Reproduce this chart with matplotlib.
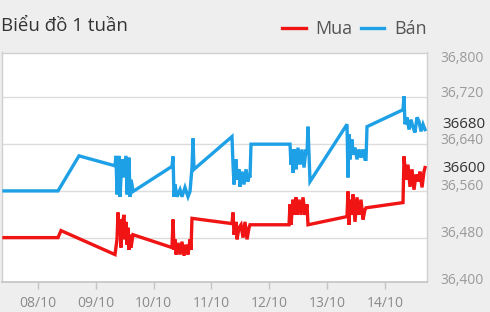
import matplotlib
matplotlib.use('Agg')
import matplotlib.pyplot as plt
import matplotlib.transforms as mtransforms
from matplotlib.lines import Line2D

# ---------------- data ----------------
title = "Biểu đồ 1 tuần"
series_names = ["Mua", "Bán"]
x_tick_pos = [0, 1, 2, 3, 4, 5, 6]          # days since 08/10 00:00
x_tick_labels = ["08/10", "09/10", "10/10", "11/10", "12/10", "13/10", "14/10"]
y_ticks = [36400, 36480, 36560, 36640, 36720, 36800]
y_tick_labels = ["36,400", "36,480", "36,560", "36,640", "36,720", "36,800"]
last_buy_label = "36600"
last_sell_label = "36680"

# Bán (sell) series: time in days since 08/10, value
sell_t = [-0.588, 0.346, 0.709, 1.332, 1.349, 1.367, 1.384, 1.401, 1.419, 1.436,
          1.453, 1.471, 1.522, 1.540, 1.557, 1.574, 1.592, 1.609, 1.626, 1.644,
          2.318, 2.336, 2.353, 2.370, 2.405, 2.457, 2.491, 2.543, 2.595, 2.630,
          2.664, 2.682, 2.699, 3.356, 3.374, 3.391, 3.426, 3.443, 3.478, 3.495,
          3.529, 3.564, 3.599, 3.633, 3.651, 3.668, 3.685, 4.360, 4.377, 4.394,
          4.412, 4.446, 4.464, 4.498, 4.533, 4.567, 4.602, 4.637, 4.654, 4.671,
          4.706, 5.346, 5.363, 5.381, 5.398, 5.433, 5.450, 5.484, 5.519, 5.554,
          5.588, 5.623, 5.657, 5.675, 5.692, 6.315, 6.332, 6.349, 6.384, 6.419,
          6.453, 6.488, 6.522, 6.557, 6.592, 6.626, 6.661, 6.696]
sell_v = [36560, 36560, 36620, 36603, 36620, 36554, 36583, 36620, 36550, 36583,
          36614, 36583, 36620, 36554, 36588, 36617, 36550, 36579, 36571, 36559,
          36602, 36619, 36550, 36571, 36550, 36562, 36550, 36566, 36550, 36559,
          36600, 36650, 36597, 36653, 36605, 36571, 36614, 36579, 36597, 36567,
          36593, 36571, 36597, 36576, 36588, 36583, 36640, 36640, 36605, 36631,
          36591, 36631, 36597, 36634, 36605, 36631, 36600, 36631, 36622, 36670,
          36576, 36674, 36583, 36657, 36614, 36648, 36622, 36634, 36614, 36631,
          36617, 36631, 36614, 36614, 36670, 36699, 36722, 36674, 36686, 36665,
          36682, 36669, 36660, 36686, 36679, 36662, 36674, 36665]

# Mua (buy) series
buy_t = [-0.588, 0.346, 0.398, 1.332, 1.367, 1.384, 1.401, 1.419, 1.436, 1.453,
         1.488, 1.505, 1.522, 1.540, 1.557, 1.574, 1.592, 1.609, 1.644,
         2.318, 2.336, 2.353, 2.370, 2.388, 2.422, 2.457, 2.491, 2.526, 2.561,
         2.595, 2.630, 2.647, 2.664, 3.356, 3.374, 3.391, 3.426, 3.443, 3.478,
         3.512, 3.547, 3.581, 3.616, 3.651, 3.668, 4.343, 4.360, 4.377, 4.412,
         4.429, 4.464, 4.481, 4.516, 4.550, 4.585, 4.619, 4.654, 4.671, 5.346,
         5.363, 5.381, 5.398, 5.433, 5.450, 5.484, 5.519, 5.554, 5.588, 5.623,
         5.657, 5.675, 6.315, 6.332, 6.367, 6.401, 6.436, 6.471, 6.505, 6.540,
         6.574, 6.609, 6.644, 6.678, 6.696]
buy_v = [36480, 36480, 36492, 36451, 36477, 36523, 36485, 36511, 36463, 36502,
         36519, 36477, 36507, 36468, 36497, 36459, 36485, 36463, 36485,
         36463, 36511, 36459, 36477, 36451, 36471, 36451, 36473, 36449, 36468,
         36451, 36477, 36459, 36513, 36504, 36523, 36485, 36507, 36477, 36497,
         36502, 36480, 36507, 36477, 36497, 36502, 36502, 36537, 36502, 36545,
         36519, 36549, 36519, 36545, 36519, 36549, 36519, 36537, 36502, 36516,
         36559, 36502, 36545, 36519, 36554, 36507, 36549, 36519, 36545, 36511,
         36528, 36531, 36540, 36619, 36579, 36605, 36567, 36597, 36562, 36588,
         36576, 36593, 36566, 36593, 36600]

# ---------------- style ----------------
FONT = ['Open Sans', 'DejaVu Sans']
plt.rcParams['font.family'] = FONT
RED = '#f01414'
BLUE = '#1ea0e6'
BG = '#eeeeee'
GRID = '#dcdcdc'
LABEL = '#9a9a9a'

W, H = 490, 312
fig = plt.figure(figsize=(W / 100, H / 100), dpi=100, facecolor=BG)
ax = fig.add_axes([2 / W, 1 - 282 / H, 425 / W, 229.5 / H])
ax.set_facecolor('white')

ax.plot(sell_t, sell_v, color=BLUE, lw=2.4, solid_joinstyle='miter', zorder=3)
ax.plot(buy_t, buy_v, color=RED, lw=2.4, solid_joinstyle='miter', zorder=3)

ax.set_xlim(-0.623, 6.730)
ax.set_ylim(36404, 36797)

for v in y_ticks[1:-1]:
    ax.axhline(v, color=GRID, lw=1, zorder=1)

for side in ['top', 'left', 'right']:
    ax.spines[side].set_color('#d0d0d0')
    ax.spines[side].set_linewidth(1)
ax.spines['bottom'].set_color('#c4c4c4')
ax.spines['bottom'].set_linewidth(1.2)

ax.set_xticks(x_tick_pos)
ax.set_xticklabels(x_tick_labels)
ax.tick_params(axis='x', direction='out', length=5, width=1, color='#c4c4c4',
               labelcolor='#8a8a8a', labelsize=10, pad=5)
ax.set_yticks([])

# y labels on the right, shifted a bit above their gridline
ytrans = mtransforms.blended_transform_factory(fig.transFigure, ax.transData)
yoff = mtransforms.offset_copy(ytrans, fig=fig, x=0, y=3, units='points')
for v, lab in zip(y_ticks, y_tick_labels):
    if v == 36800:
        fig.text(440 / W, 1 - 58 / H, lab, color=LABEL, fontsize=10,
                 ha='left', va='center')
    else:
        fig.text(440 / W, v, lab, transform=yoff, color=LABEL, fontsize=10,
                 ha='left', va='center')

# latest value labels
fig.text(442 / W, 1 - 125 / H, last_sell_label, color='#333333', fontsize=10.8,
         ha='left', va='center')
fig.text(442 / W, 1 - 168 / H, last_buy_label, color='#333333', fontsize=10.8,
         ha='left', va='center')

# title
fig.text(1 / W, 1 - 26 / H, title, color='#333333', fontsize=13.4,
         ha='left', va='center')

# legend
handles = [Line2D([], [], color=RED, lw=2.4), Line2D([], [], color=BLUE, lw=2.4)]
fig.legend(handles, series_names, loc='center right',
           bbox_to_anchor=(427 / W, 1 - 29 / H), ncol=2, frameon=False,
           fontsize=13, handlelength=1.3, handletextpad=0.55,
           columnspacing=0.45, borderpad=0, borderaxespad=0,
           labelcolor='#555555')

fig.savefig('out.png', dpi=100, facecolor=BG)
